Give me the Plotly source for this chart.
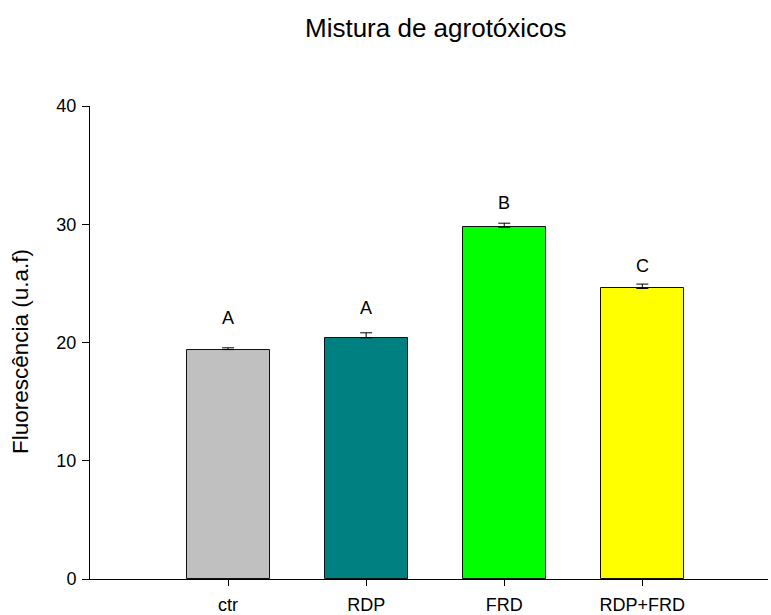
import plotly.graph_objects as go

# Treatment groups and measured fluorescence (mean, +SE)
groups = ["ctr", "RDP", "FRD", "RDP+FRD"]
means = [19.4, 20.4, 29.75, 24.57]
errors = [0.15, 0.42, 0.34, 0.37]
colors = ["#C0C0C0", "#008080", "#00FF00", "#FFFF00"]

# Significance letters and the height at which each is written
letters = ["A", "A", "B", "C"]
letter_y = [22.06, 22.9, 31.8, 26.5]

x_pos = list(range(len(groups)))
FONT = "Liberation Sans, Arial, sans-serif"

fig = go.Figure()
fig.add_trace(go.Bar(
    x=x_pos,
    y=means,
    width=0.6,
    marker=dict(color=colors, line=dict(color="#111111", width=1)),
    error_y=dict(type="data", symmetric=False, array=errors,
                 arrayminus=[0] * len(errors),
                 color="black", thickness=1, width=6),
    showlegend=False,
))

for xi, lab, yy in zip(x_pos, letters, letter_y):
    fig.add_annotation(x=xi, y=yy, text=lab, showarrow=False,
                       xanchor="center", yanchor="middle",
                       font=dict(family=FONT, size=18, color="black"))

fig.add_annotation(xref="paper", yref="paper", x=(435.5 - 90) / 678, y=1 + (106 - 28) / 473,
                   text="Mistura de agrotóxicos", showarrow=False,
                   xanchor="center", yanchor="middle",
                   font=dict(family=FONT, size=26, color="black"))

fig.add_annotation(xref="paper", yref="paper", x=-(90 - 20) / 678, y=(579 - 352) / 473,
                   text="Fluorescência (u.a.f)", showarrow=False, textangle=-90,
                   xanchor="center", yanchor="middle",
                   font=dict(family=FONT, size=22.5, color="black"))

fig.update_layout(
    width=771, height=615,
    margin=dict(l=90, r=3, t=106, b=36, autoexpand=False),
    plot_bgcolor="white", paper_bgcolor="white",
    font=dict(family=FONT, size=18, color="black"),
    bargap=0,
)
fig.update_xaxes(
    range=[-1.0, 3.91],
    tickmode="array", tickvals=x_pos, ticktext=groups,
    showline=True, linecolor="black", linewidth=1,
    ticks="outside", ticklen=6, tickcolor="black",
    ticklabelstandoff=3, automargin=False,
    showgrid=False, zeroline=False,
    tickfont=dict(family=FONT, size=18),
)
fig.update_yaxes(
    range=[0, 40],
    tickmode="array", tickvals=[0, 10, 20, 30, 40],
    showline=True, linecolor="black", linewidth=1,
    ticks="outside", ticklen=7, tickcolor="black",
    ticklabelstandoff=2, automargin=False,
    showgrid=False, zeroline=False,
    tickfont=dict(family=FONT, size=18),
)

fig.write_html("out.html")
